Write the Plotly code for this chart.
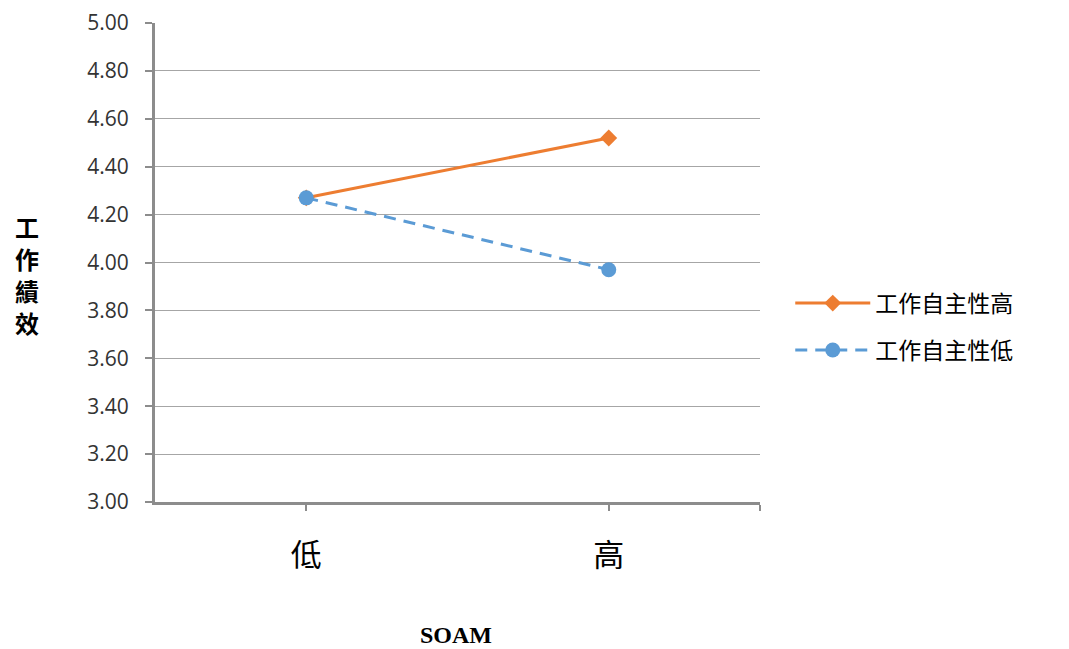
import plotly.graph_objects as go

# Data
categories = ["低", "高"]
autonomy_high = [4.27, 4.52]
autonomy_low = [4.27, 3.97]
y_ticks = [3.0, 3.2, 3.4, 3.6, 3.8, 4.0, 4.2, 4.4, 4.6, 4.8, 5.0]
y_title_chars = ["工", "作", "績", "效"]

cjk = "Noto Sans CJK TC"
x_pos = list(range(len(categories)))

fig = go.Figure()
fig.add_trace(go.Scatter(
    x=x_pos, y=autonomy_high, name="工作自主性高", mode="lines+markers",
    legendgroup="high",
    line=dict(color="#ED7D31", width=3),
    marker=dict(symbol="diamond", size=13, color="#ED7D31"),
))
fig.add_trace(go.Scatter(
    x=x_pos, y=autonomy_low, name="工作自主性低", mode="lines+markers",
    legendgroup="low",
    line=dict(color="#5B9BD5", width=3, dash="12px,8px"),
    marker=dict(symbol="circle", size=15, color="#5B9BD5"),
))

# Vertical y-axis title, one character per line
annotations = [
    dict(text="SOAM", xref="paper", yref="paper", x=0.497, y=-0.277,
         xanchor="center", yanchor="middle", showarrow=False,
         font=dict(family="Liberation Serif", size=24, color="black", weight="bold")),
]
for i, ch in enumerate(y_title_chars):
    annotations.append(dict(
        text=f"<b>{ch}</b>", xref="paper", yref="paper",
        x=-0.211, y=0.575 - i * 0.067, xanchor="center", yanchor="middle",
        showarrow=False, font=dict(family=cjk, size=24, color="black"),
    ))

fig.update_layout(
    width=1069, height=649,
    margin=dict(l=155, r=309, t=23, b=147),
    paper_bgcolor="white", plot_bgcolor="white",
    showlegend=True,
    legend=dict(
        x=1.05, y=0.46, xanchor="left", yanchor="top",
        font=dict(family=cjk, size=23, color="black"),
        itemwidth=75, tracegroupgap=14, bgcolor="rgba(0,0,0,0)",
    ),
    xaxis=dict(
        range=[-0.5, 1.5], automargin=False,
        tickvals=x_pos + [1.5], ticktext=categories + [""],
        ticks="outside", ticklen=6, tickwidth=2, tickcolor="#8C8C8C",
        showline=True, linecolor="#8C8C8C", linewidth=3,
        showgrid=False, zeroline=False,
        tickfont=dict(family=cjk, size=31, color="black"),
        ticklabelstandoff=18,
    ),
    yaxis=dict(
        range=[3.0, 5.0], tickvals=y_ticks, tickformat=".2f", automargin=False,
        ticks="outside", ticklen=7, tickwidth=2, tickcolor="#8C8C8C",
        showline=True, linecolor="#8C8C8C", linewidth=3,
        showgrid=True, gridcolor="#A6A6A6", gridwidth=1,
        zeroline=False,
        tickfont=dict(family="Open Sans", size=21, color="#333333"),
        ticklabelstandoff=12,
    ),
    annotations=annotations,
)

fig.write_html("out.html")
